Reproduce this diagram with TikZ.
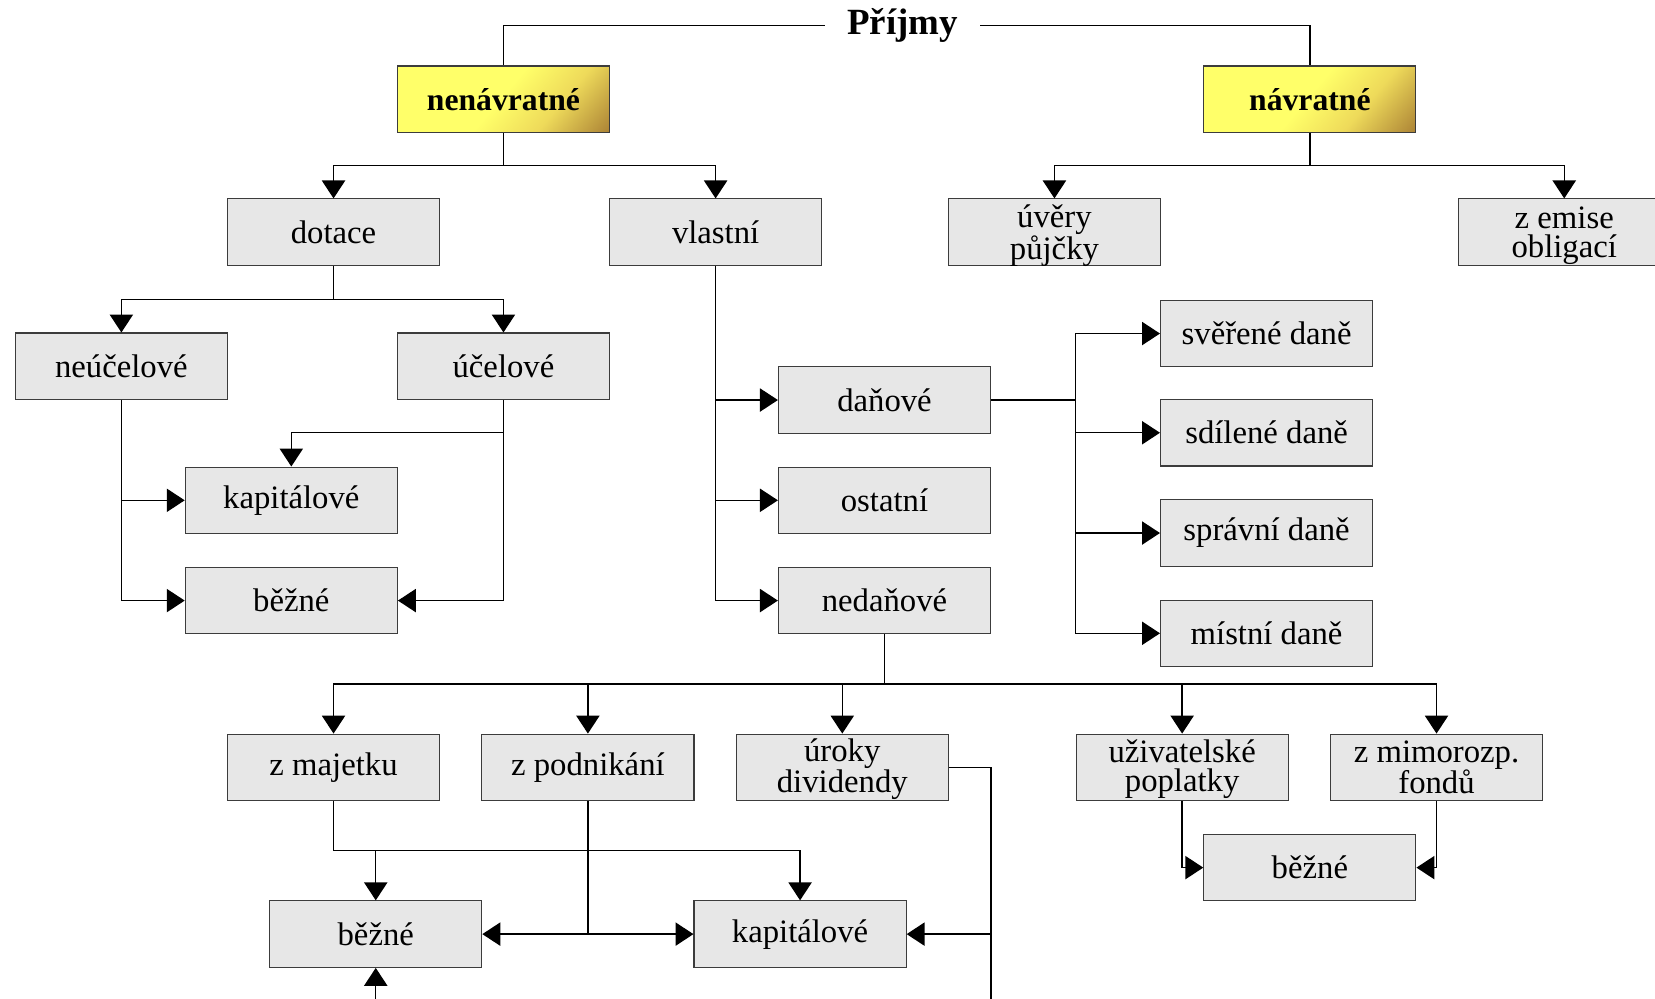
\documentclass[tikz,border=0pt]{standalone}
\usepackage{fontspec}
\setmainfont{Liberation Serif}
\usetikzlibrary{arrows.meta}
\definecolor{boxfill}{RGB}{231,231,231}
\definecolor{boxline}{RGB}{60,60,60}
\definecolor{yelA}{RGB}{255,255,105}
\definecolor{yelB}{RGB}{238,218,90}
\definecolor{yelC}{RGB}{162,118,48}
\pgfdeclarehorizontalshading{goldsh}{100bp}{color(0bp)=(yelA); color(49bp)=(yelA); color(66bp)=(yelB); color(88bp)=(yelC); color(100bp)=(yelC)}
\tikzset{
  box/.style={draw=boxline, line width=1pt, fill=boxfill, minimum width=201pt, minimum height=63pt,
    inner sep=0pt, align=center, font=\fontsize{31}{28}\selectfont},
  lowtext/.style={text depth=0pt},
  ybox/.style={box, shading=goldsh, shading angle=-40,
    font=\fontsize{30}{28}\selectfont\bfseries},
  conn/.style={line width=1.3pt, black},
  arr/.style={conn, -{Triangle[length=17pt,width=22pt]}},
}
\begin{document}
\begin{tikzpicture}[x=1pt,y=-1pt]
\useasboundingbox (0,0) rectangle (1568,946);
\clip (0,0) rectangle (1568,946);
% nodes
\node[font=\fontsize{35}{35}\selectfont\bfseries, inner xsep=21pt, inner ysep=0pt] (title) at (855,24) {Příjmy};
\node[ybox] (nen) at (477,94) {nenávratné};
\node[ybox] (nav) at (1241,94) {návratné};
\node[box] (dot) at (316,220) {dotace};
\node[box] (vla) at (678,220) {vlastní};
\node[box, lowtext] (uve) at (999,220) {úvěry\\půjčky};
\node[box, lowtext] (emi) at (1482,220) {z emise\\obligací};
\node[box] (neu) at (115,347) {neúčelové};
\node[box] (uce) at (477,347) {účelové};
\node[box] (kap1) at (276,474) {kapitálové};
\node[box] (bez1) at (276,569) {běžné};
\node[box] (dan) at (838,379) {daňové};
\node[box] (ost) at (838,474) {ostatní};
\node[box] (ned) at (838,569) {nedaňové};
\node[box] (sve) at (1200,316) {svěřené daně};
\node[box] (sdi) at (1200,410) {sdílené daně};
\node[box] (spr) at (1200,505) {správní daně};
\node[box] (mis) at (1200,600) {místní daně};
\node[box] (maj) at (316,727) {z majetku};
\node[box] (pod) at (557,727) {z podnikání};
\node[box, text depth=3pt] (uro) at (798,727) {úroky\\dividendy};
\node[box, text depth=3pt] (uzi) at (1120,727) {uživatelské\\poplatky};
\node[box] (mim) at (1361,727) {z mimorozp.\\fondů};
\node[box] (bez2) at (356,885) {běžné};
\node[box] (kap2) at (758,885) {kapitálové};
\node[box] (bez3) at (1241,822) {běžné};
% junction coordinates
\coordinate (j1) at (477,157);
\coordinate (j2) at (1241,157);
\coordinate (j3) at (316,284);
\coordinate (j4) at (477,410);
\coordinate (j5) at (1019,379);
\coordinate (j6) at (838,648);
\coordinate (j7) at (316,806);
\coordinate (j8) at (557,885);
\coordinate (j9) at (939,885);
\coordinate (e1) at (939,960);
\coordinate (e2) at (356,960);
% connectors
\draw[conn] (title.west) -| (nen.north);
\draw[conn] (title.east) -| (nav.north);
\draw[conn] (nen) -- (j1);
\draw[arr] (j1) -| (dot);
\draw[arr] (j1) -| (vla);
\draw[conn] (nav) -- (j2);
\draw[arr] (j2) -| (uve);
\draw[arr] (j2) -| (emi);
\draw[conn] (dot) -- (j3);
\draw[arr] (j3) -| (neu);
\draw[arr] (j3) -| (uce);
\draw[conn] (uce) -- (j4);
\draw[arr] (j4) -| (kap1);
\draw[arr] (uce) |- (bez1);
\draw[arr] (neu) |- (kap1);
\draw[arr] (neu) |- (bez1);
\draw[arr] (vla) |- (dan);
\draw[arr] (vla) |- (ost);
\draw[arr] (vla) |- (ned);
\draw[conn] (dan) -- (j5);
\draw[arr] (j5) |- (sve);
\draw[arr] (j5) |- (sdi);
\draw[arr] (j5) |- (spr);
\draw[arr] (j5) |- (mis);
\draw[conn] (ned) -- (j6);
\draw[arr] (j6) -| (maj);
\draw[arr] (j6) -| (pod);
\draw[arr] (j6) -| (uro);
\draw[arr] (j6) -| (uzi);
\draw[arr] (j6) -| (mim);
\draw[conn] (maj) -- (j7);
\draw[arr] (j7) -| (bez2);
\draw[arr] (j7) -| (kap2);
\draw[conn] (pod) -- (j8);
\draw[arr] (j8) -- (bez2);
\draw[arr] (j8) -- (kap2);
\draw[conn] (uro.east) -| (e1);
\draw[arr] (j9) -- (kap2);
\draw[arr] (e2) -- (bez2);
\draw[arr] (uzi) |- (bez3);
\draw[arr] (mim) |- (bez3);
\end{tikzpicture}
\end{document}
